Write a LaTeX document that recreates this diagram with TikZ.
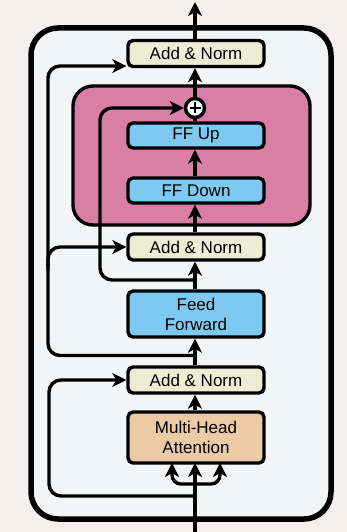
\documentclass[tikz,border=0pt]{standalone}
\usepackage{fontspec}
\setmainfont{Liberation Sans}
\usetikzlibrary{arrows.meta,calc}

\definecolor{pagebg}{HTML}{F2EFEE}
\definecolor{panelbg}{HTML}{F3F4F6}
\definecolor{adapterpink}{HTML}{D97FA6}
\definecolor{ffblue}{HTML}{7EC9EF}
\definecolor{normbeige}{HTML}{EDEDD5}
\definecolor{attntan}{HTML}{EBCBA4}

\tikzset{
  layer/.style={draw=black, line width=3.4pt, rounded corners=5pt,
    minimum width=136pt, inner sep=0pt, align=center,
    font=\fontsize{17}{21}\selectfont},
  normbox/.style={layer, fill=normbeige, minimum height=26pt},
  ffbox/.style={layer, fill=ffblue, minimum height=25pt},
  flow/.style={line width=3.4pt, draw=black},
  arr/.style={flow, -{Stealth[length=14pt,width=14pt,inset=4pt]}},
  loop/.style={flow, rounded corners=12pt},
}

\begin{document}
\begin{tikzpicture}[x=1pt,y=-1pt]
  % page and encoder panel
  \fill[pagebg] (0,0) rectangle (347,532);
  \useasboundingbox (0,0) rectangle (347,532);
  \draw[line width=5.5pt, fill=panelbg, rounded corners=27pt] (31,28) rectangle (331,519);

  % adapter block
  \node[draw=black, line width=3.4pt, fill=adapterpink, rounded corners=20pt,
        minimum width=237pt, minimum height=139pt, inner sep=0pt] (adapter) at (191.5,155.5) {};

  % layers
  \node[normbox] (an3) at (196,53.5) {Add \& Norm};
  \node[draw=black, line width=3.4pt, fill=white, circle, minimum size=19pt, inner sep=0pt] (plus) at (195,108) {};
  \draw[line width=2.6pt] ($(plus.center)+(-5.5,0)$) -- ($(plus.center)+(5.5,0)$)
                          ($(plus.center)+(0,-5.5)$) -- ($(plus.center)+(0,5.5)$);
  \node[ffbox] (ffup) at (196,135.5) {FF Up};
  \node[ffbox] (ffdown) at (196,190.5) {FF Down};
  \node[normbox] (an2) at (196,247) {Add \& Norm};
  \node[layer, fill=ffblue, minimum height=46pt] (ff) at (196,314) {Feed\\[-1pt]Forward};
  \node[normbox] (an1) at (196,380) {Add \& Norm};
  \node[layer, fill=attntan, minimum height=51pt] (mha) at (196,437.5) {Multi-Head\\[-1pt]Attention};

  % main path
  \coordinate (in) at (195,532);
  \coordinate (out) at (195,2);
  \coordinate (split) at (195,484);
  \draw[arr] (in) -- (split) -- (195,463);
  \draw[arr, rounded corners=9pt] (split) -- (172,484) -- (172,463);
  \draw[arr, rounded corners=9pt] (split) -- (220,484) -- (220,463);
  \draw[arr] (mha.north -| 195,0) -- (an1.south -| 195,0);
  \draw[arr] (an1.north -| 195,0) -- (ff.south -| 195,0);
  \draw[arr] (ff.north -| 195,0) -- (an2.south -| 195,0);
  \draw[arr] (an2.north -| 195,0) -- (ffdown.south -| 195,0);
  \draw[arr] (ffdown.north -| 195,0) -- (ffup.south -| 195,0);
  \draw[flow] (ffup.north -| 195,0) -- (plus.south);
  \draw[arr] (plus.north) -- (an3.south -| 195,0);
  \draw[arr] (an3.north -| 195,0) -- (out);

  % residual connections
  \draw[arr, loop] (195,496) -- (49,496) -- (49,380) -- (an1.west);
  \draw[arr, loop] (195,355.5) -- (48,355.5) -- (48,66) -- (an3.west |- 0,66);
  \draw[arr, loop] (48,270) |- (an2.west);
  \draw[arr, loop] (195,280) -- (100,280) -- (100,108) -- (plus.west);
\end{tikzpicture}
\end{document}
